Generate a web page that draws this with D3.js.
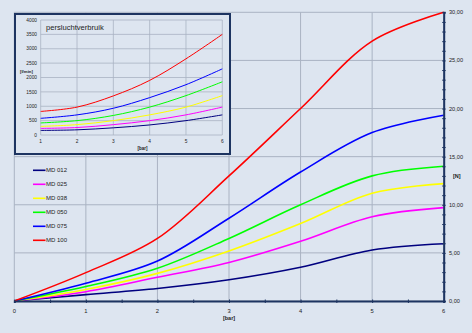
<!DOCTYPE html>
<html>
<head>
<meta charset="utf-8">
<script src="https://cdn.jsdelivr.net/npm/d3@7"></script>
<style>
  html, body { margin: 0; padding: 0; background: #dde5f0; }
  svg { display: block; font-family: "Liberation Sans", Arial, sans-serif; }
</style>
</head>
<body>
<svg id="chart" width="472" height="333"></svg>
<script>
// Series names and colours
const seriesNames = ["MD 012", "MD 025", "MD 038", "MD 050", "MD 075", "MD 100"];
const seriesColors = ["#00007f", "#ff00ff", "#ffff00", "#00ff00", "#0000ff", "#ff0000"];

// Force [N] against pressure [bar]
const pressure = [0, 1, 2, 3, 4, 5, 6];
const force012 = [0, 0.66, 1.3, 2.2, 3.5, 5.3, 5.95];
const force025 = [0, 0.97, 2.46, 4.0, 6.2, 8.75, 9.7];
const force038 = [0, 1.2, 2.87, 5.2, 8.05, 11.2, 12.2];
const force050 = [0, 1.5, 3.4, 6.5, 10.0, 13.0, 14.0];
const force075 = [0, 1.85, 4.15, 8.6, 13.4, 17.5, 19.3];
const force100 = [0, 2.95, 6.5, 13.0, 20.0, 27.0, 30.0];
const forceSeries = [force012, force025, force038, force050, force075, force100];
const forceTicks = [0, 5, 10, 15, 20, 25, 30];

// Compressed air consumption [l/min] against pressure [bar]
const airPressure = [1, 2, 3, 4, 5, 6];
const air012 = [160, 180, 250, 350, 500, 700];
const air025 = [230, 260, 360, 500, 700, 970];
const air038 = [300, 360, 500, 700, 970, 1370];
const air050 = [420, 500, 680, 970, 1370, 1850];
const air075 = [580, 700, 930, 1300, 1750, 2300];
const air100 = [820, 970, 1360, 1900, 2650, 3500];
const airSeries = [air012, air025, air038, air050, air075, air100];
const airTicks = [0, 500, 1000, 1500, 2000, 2500, 3000, 3500, 4000];

const svg = d3.select("#chart");
const gridColor = "#aab3c3";
const axisColor = "#1d3461";

// ---------- main chart ----------
const x = d3.scaleLinear().domain([0, 6]).range([14.3, 443.7]);
const y = d3.scaleLinear().domain([0, 30]).range([301, 12.3]);

const main = svg.append("g");

// grid
main.append("g").selectAll("line.v").data(pressure).join("line")
  .attr("x1", d => x(d)).attr("x2", d => x(d))
  .attr("y1", y(0)).attr("y2", y(30))
  .attr("stroke", gridColor).attr("stroke-width", 1);
main.append("g").selectAll("line.h").data(forceTicks).join("line")
  .attr("x1", x(0)).attr("x2", x(6))
  .attr("y1", d => y(d)).attr("y2", d => y(d))
  .attr("stroke", gridColor).attr("stroke-width", 1);

// curves
const mainLine = d3.line()
  .x((d, i) => x(pressure[i]))
  .y(d => y(d))
  .curve(d3.curveCatmullRom.alpha(0.5));
main.append("g").selectAll("path").data(forceSeries).join("path")
  .attr("d", d => mainLine(d))
  .attr("fill", "none")
  .attr("stroke", (d, i) => seriesColors[i])
  .attr("stroke-width", 1.6);

// bottom axis
const xAxis = d3.axisBottom(x).tickValues(d3.range(0, 6.01, 0.5)).tickSize(2).tickFormat("");
const gx = main.append("g").attr("transform", `translate(0,${y(0)})`).call(xAxis);
gx.select(".domain").attr("stroke", axisColor).attr("stroke-width", 2);
gx.selectAll(".tick line").attr("stroke", axisColor).attr("y1", -1.5);
main.append("g").selectAll("text").data(pressure).join("text")
  .attr("x", d => x(d)).attr("y", 312.5)
  .attr("text-anchor", "middle")
  .attr("font-size", 5.8).attr("fill", "#222")
  .text(d => d);
main.append("text").attr("x", x(3)).attr("y", 320)
  .attr("text-anchor", "middle").attr("font-size", 5.5).attr("font-weight", "bold")
  .attr("fill", "#222").text("[bar]");

// right axis
const yAxis = d3.axisRight(y).tickValues(d3.range(0, 30.01, 1)).tickSize(2).tickFormat("");
const gy = main.append("g").attr("transform", `translate(${x(6)},0)`).call(yAxis);
gy.select(".domain").attr("stroke", axisColor).attr("stroke-width", 2);
gy.selectAll(".tick line").attr("stroke", axisColor).attr("x1", -1.5);
main.append("g").selectAll("text").data(forceTicks).join("text")
  .attr("x", 449).attr("y", d => y(d) + 2)
  .attr("font-size", 5.6).attr("fill", "#222")
  .text(d => d3.format(".2f")(d).replace(".", ","));
main.append("text").attr("x", 453).attr("y", 178)
  .attr("font-size", 5.5).attr("font-weight", "bold").attr("fill", "#222").text("[N]");

// legend
const legend = main.append("g");
seriesNames.forEach((name, i) => {
  const ly = 170.3 + i * 14;
  legend.append("line").attr("x1", 33).attr("x2", 45.5).attr("y1", ly).attr("y2", ly)
    .attr("stroke", seriesColors[i]).attr("stroke-width", 1.6);
  legend.append("text").attr("x", 46).attr("y", ly + 2.1)
    .attr("font-size", 6).attr("fill", "#222").text(name);
});

// ---------- inset: persluchtverbruik ----------
const inset = svg.append("g");
inset.append("rect").attr("x", 15).attr("y", 14).attr("width", 215).attr("height", 140)
  .attr("fill", "#dde5f0").attr("stroke", axisColor).attr("stroke-width", 2);

const ix = d3.scaleLinear().domain([1, 6]).range([40.7, 222.3]);
const iy = d3.scaleLinear().domain([0, 4000]).range([135, 20]);

inset.append("g").selectAll("line").data(airPressure).join("line")
  .attr("x1", d => ix(d)).attr("x2", d => ix(d))
  .attr("y1", iy(0)).attr("y2", iy(4000))
  .attr("stroke", gridColor).attr("stroke-width", 0.8);
inset.append("g").selectAll("line").data(airTicks).join("line")
  .attr("x1", ix(1)).attr("x2", ix(6))
  .attr("y1", d => iy(d)).attr("y2", d => iy(d))
  .attr("stroke", gridColor).attr("stroke-width", 0.8);

const insetLine = d3.line()
  .x((d, i) => ix(airPressure[i]))
  .y(d => iy(d))
  .curve(d3.curveCatmullRom.alpha(0.5));
inset.append("g").selectAll("path").data(airSeries).join("path")
  .attr("d", d => insetLine(d))
  .attr("fill", "none")
  .attr("stroke", (d, i) => seriesColors[i])
  .attr("stroke-width", 1);

inset.append("g").selectAll("text").data(airTicks).join("text")
  .attr("x", 37).attr("y", d => iy(d) + 1.7)
  .attr("text-anchor", "end").attr("font-size", 4.8).attr("fill", "#222")
  .text(d => d);
inset.append("g").selectAll("text").data(airPressure).join("text")
  .attr("x", d => ix(d)).attr("y", 143)
  .attr("text-anchor", "middle").attr("font-size", 4.8).attr("fill", "#222")
  .text(d => d);
inset.append("text").attr("x", ix(3.8)).attr("y", 149.5)
  .attr("text-anchor", "middle").attr("font-size", 4.5).attr("font-weight", "bold")
  .attr("fill", "#222").text("[bar]");
inset.append("text").attr("x", 20).attr("y", 72.5)
  .attr("font-size", 4.3).attr("font-weight", "bold").attr("fill", "#222").text("[l/min]");
inset.append("text").attr("x", 46).attr("y", 29.5)
  .attr("font-size", 7.6).attr("fill", "#222").text("persluchtverbruik");
</script>
</body>
</html>
